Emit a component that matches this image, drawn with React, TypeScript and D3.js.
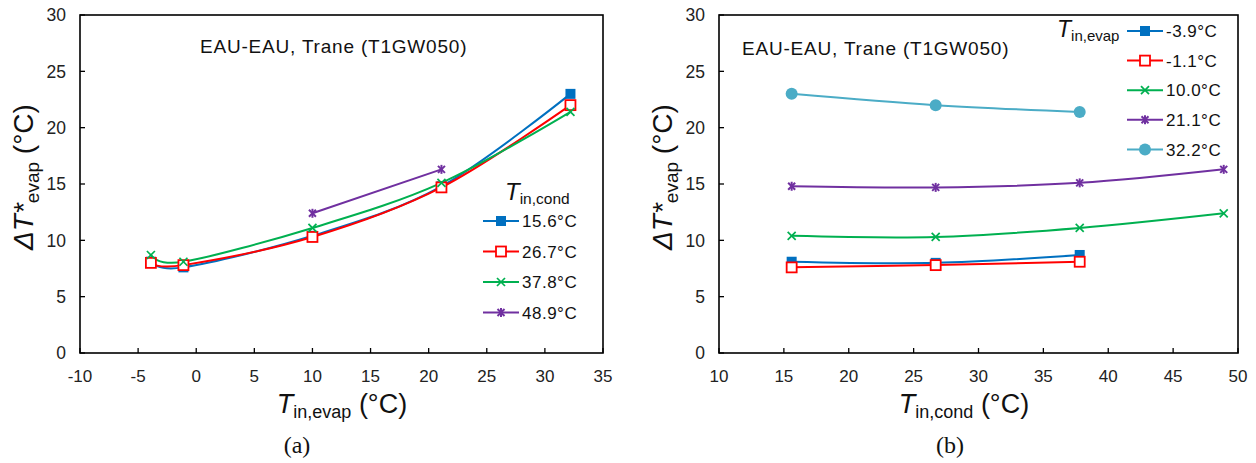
import React from "react";
import * as d3 from "d3";

// ---- data ----
const tinEvap = [-3.9, -1.1, 10.0, 21.1, 32.2];
const tinCond = [15.6, 26.7, 37.8, 48.9];

// panel (a): series by Tin,cond, values over tinEvap (null = no point)
const condLabels = ["15.6°C", "26.7°C", "37.8°C", "48.9°C"];
const cond156 = [8.1, 7.6, 10.4, 14.8, 23.0];
const cond267 = [8.0, 7.8, 10.3, 14.7, 22.0];
const cond378 = [8.7, 8.1, 11.1, 15.1, 21.4];
const cond489 = [null, null, 12.4, 16.3, null];

// panel (b): series by Tin,evap, values over tinCond
const evapLabels = ["-3.9°C", "-1.1°C", "10.0°C", "21.1°C", "32.2°C"];
const evapM39 = [8.1, 8.0, 8.7, null];
const evapM11 = [7.6, 7.8, 8.1, null];
const evap100 = [10.4, 10.3, 11.1, 12.4];
const evap211 = [14.8, 14.7, 15.1, 16.3];
const evap322 = [23.0, 22.0, 21.4, null];

const xTicksA = [-10, -5, 0, 5, 10, 15, 20, 25, 30, 35];
const xTicksB = [10, 15, 20, 25, 30, 35, 40, 45, 50];
const yTicks = [0, 5, 10, 15, 20, 25, 30];

const COLORS = ["#0070C0", "#FF0000", "#00B050", "#7030A0", "#4BACC6"];
const MARKERS = ["sqFill", "sqOpen", "x", "star", "circle"];

const FONT = "Liberation Sans, Arial, sans-serif";

function Marker({ type, x, y, color }: { type: string; x: number; y: number; color: string }) {
  if (type === "sqFill")
    return <rect x={x - 5} y={y - 5} width={10} height={10} fill={color} />;
  if (type === "sqOpen")
    return <rect x={x - 5} y={y - 5} width={10} height={10} fill="#fff" stroke={color} strokeWidth={1.8} />;
  if (type === "x")
    return (
      <g stroke={color} strokeWidth={1.7}>
        <line x1={x - 4} y1={y - 4} x2={x + 4} y2={y + 4} />
        <line x1={x - 4} y1={y + 4} x2={x + 4} y2={y - 4} />
      </g>
    );
  if (type === "star")
    return (
      <g stroke={color} strokeWidth={2}>
        <line x1={x - 3.5} y1={y - 3.5} x2={x + 3.5} y2={y + 3.5} />
        <line x1={x - 3.5} y1={y + 3.5} x2={x + 3.5} y2={y - 3.5} />
        <line x1={x} y1={y - 4.5} x2={x} y2={y + 4.5} />
      </g>
    );
  return <circle cx={x} cy={y} r={6} fill={color} />;
}

type Series = { xs: number[]; ys: (number | null)[]; color: string; marker: string };

function Panel(props: {
  left: number;
  right: number;
  xDomain: [number, number];
  xTicks: number[];
  series: Series[];
  note: { x: number; y: number };
  xTitleSub: string;
  xTitleX: number;
  capX: number;
  cap: string;
  legend: React.ReactNode;
}) {
  const top = 15, bottom = 353;
  const x = d3.scaleLinear().domain(props.xDomain).range([props.left, props.right]);
  const y = d3.scaleLinear().domain([0, 30]).range([bottom, top]);
  const line = d3
    .line<[number, number]>()
    .x((d) => x(d[0]))
    .y((d) => y(d[1]))
    .curve(d3.curveCatmullRom.alpha(0));
  const yTitleX = props.left - 47;
  return (
    <g fontFamily={FONT}>
      {props.series.map((s, i) => {
        const pts = s.xs
          .map((xv, j) => [xv, s.ys[j]] as [number, number | null])
          .filter((p) => p[1] !== null) as [number, number][];
        return <path key={i} d={line(pts) || ""} fill="none" stroke={s.color} strokeWidth={2} />;
      })}
      {props.series.map((s, i) =>
        s.xs.map((xv, j) =>
          s.ys[j] === null ? null : (
            <Marker key={i + "-" + j} type={s.marker} x={x(xv)} y={y(s.ys[j] as number)} color={s.color} />
          )
        )
      )}
      <rect x={props.left} y={top} width={props.right - props.left} height={bottom - top} fill="none" stroke="#000" strokeWidth={1.6} />
      {yTicks.map((t) => (
        <g key={"y" + t}>
          <line x1={props.left} x2={props.left + 5} y1={y(t)} y2={y(t)} stroke="#000" strokeWidth={1.3} />
          <text x={props.left - 14} y={y(t)} dy="0.36em" textAnchor="end" fontSize={17.5} fill="#222">
            {t}
          </text>
        </g>
      ))}
      {props.xTicks.map((t) => (
        <g key={"x" + t}>
          <line x1={x(t)} x2={x(t)} y1={bottom} y2={bottom - 5} stroke="#000" strokeWidth={1.3} />
          <text x={x(t)} y={bottom + 29} textAnchor="middle" fontSize={17} fill="#222">
            {t}
          </text>
        </g>
      ))}
      <text x={props.note.x} y={props.note.y} fontSize={19} letterSpacing={0.8} fill="#111">
        EAU-EAU, Trane (T1GW050)
      </text>
      <text x={props.xTitleX} y={413} textAnchor="middle" fontSize={27} fill="#111">
        <tspan fontStyle="italic">T</tspan>
        <tspan fontSize={18} dy={5}>{props.xTitleSub}</tspan>
        <tspan dy={-5}> (°C)</tspan>
      </text>
      <text transform={`translate(${yTitleX},177) rotate(-90)`} textAnchor="middle" fontSize={28} fill="#111">
        <tspan fontStyle="italic">ΔT*</tspan>
        <tspan fontSize={19} dy={6}>evap</tspan>
        <tspan dy={-6}> (°C)</tspan>
      </text>
      <text x={props.capX} y={453} textAnchor="middle" fontSize={24} fontFamily="Liberation Serif, Times New Roman, serif" fill="#111">
        {props.cap}
      </text>
      {props.legend}
    </g>
  );
}

function LegendEntry({ x, y, color, marker, label }: { x: number; y: number; color: string; marker: string; label: string }) {
  return (
    <g>
      <line x1={x} x2={x + 36} y1={y} y2={y} stroke={color} strokeWidth={2} />
      <Marker type={marker} x={x + 18} y={y} color={color} />
      <text x={x + 39} y={y} dy="0.36em" fontSize={17} letterSpacing={0.5} fill="#111" fontFamily={FONT}>
        {label}
      </text>
    </g>
  );
}

export default function App() {
  const seriesA: Series[] = [cond156, cond267, cond378, cond489].map((ys, i) => ({
    xs: tinEvap,
    ys,
    color: COLORS[i],
    marker: MARKERS[i],
  }));
  const seriesB: Series[] = [evapM39, evapM11, evap100, evap211, evap322].map((ys, i) => ({
    xs: tinCond,
    ys,
    color: COLORS[i],
    marker: MARKERS[i],
  }));
  const legendA = (
    <g>
      <text x={505} y={200} fontSize={24} fill="#111" fontFamily={FONT}>
        <tspan fontStyle="italic">T</tspan>
        <tspan fontSize={15.5} dy={4}>in,cond</tspan>
      </text>
      {condLabels.map((l, i) => (
        <LegendEntry key={l} x={483} y={221 + i * 30.5} color={COLORS[i]} marker={MARKERS[i]} label={l} />
      ))}
    </g>
  );
  const legendB = (
    <g>
      <text x={1057} y={37} fontSize={23} fill="#111" fontFamily={FONT}>
        <tspan fontStyle="italic">T</tspan>
        <tspan fontSize={15} dy={4}>in,evap</tspan>
      </text>
      {evapLabels.map((l, i) => (
        <LegendEntry key={l} x={1127} y={31 + i * 29.6} color={COLORS[i]} marker={MARKERS[i]} label={l} />
      ))}
    </g>
  );
  return (
    <svg width={1256} height={463} style={{ position: "absolute", left: 0, top: 0, background: "#fff" }}>
      <rect width={1256} height={463} fill="#fff" />
      <Panel
        left={80}
        right={603}
        xDomain={[-10, 35]}
        xTicks={xTicksA}
        series={seriesA}
        note={{ x: 200, y: 53 }}
        xTitleSub="in,evap"
        xTitleX={342}
        capX={297}
        cap="(a)"
        legend={legendA}
      />
      <Panel
        left={719}
        right={1238}
        xDomain={[10, 50]}
        xTicks={xTicksB}
        series={seriesB}
        note={{ x: 742, y: 55 }}
        xTitleSub="in,cond"
        xTitleX={964}
        capX={950}
        cap="(b)"
        legend={legendB}
      />
    </svg>
  );
}
